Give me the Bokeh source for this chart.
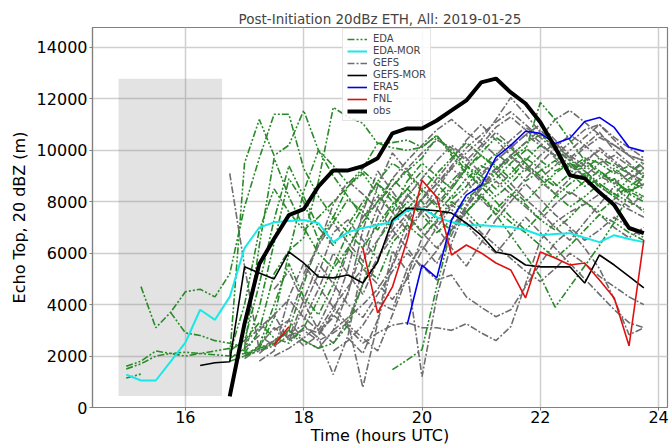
from bokeh.plotting import figure
from bokeh.models import FixedTicker, Legend, LegendItem, Range1d
from bokeh.embed import file_html
from bokeh.resources import INLINE

TITLE = "Post-Initiation 20dBz ETH, All: 2019-01-25"
STEP = 0.25  # hours between successive values of every series
END_HOUR = 23.75

X_TICKS = [16, 18, 20, 22, 24]
Y_TICKS = [0, 2000, 4000, 6000, 8000, 10000, 12000, 14000]

# initiation window (grey box)
INIT_WINDOW_HOURS = [14.87, 16.62]
INIT_WINDOW_ETH = [450, 12780]

# observations
obs_start = 16.75
obs = [430, 3260, 5580, 6560, 7480, 7710, 8600, 9220, 9220, 9380, 9690, 10660,
       10850, 10850, 11160, 11550, 11940, 12640, 12790, 12250, 11820, 11090,
       10120, 9030, 8910, 8370, 7870, 6980, 6780]

# ensemble means / reanalyses
eda_mor_start = 15.0
eda_mor = [1280, 1050, 1050, 1780, 2520, 3800, 3410, 4300, 6200, 7000, 7200,
           7250, 7290, 7170, 6430, 6820, 6980, 7100, 7210, 7670, 7750, 7400,
           7210, 7090, 7090, 7050, 7020, 6900, 6700, 6750, 6780, 6600, 6430,
           6700, 6550, 6430]

gefs_mor_start = 16.25
gefs_mor = [1630, 1740, 1780, 5470, 5230, 5000, 6050, 5620, 5080, 5040, 5150,
            4840, 5660, 7290, 7750, 7700, 7650, 7560, 7170, 6700, 6050, 5930,
            5540, 5470, 5470, 5470, 4840, 5930, 5540, 5100, 4650]

era5_start = 19.75
era5 = [3220, 5540, 5040, 7290, 8260, 8640, 9730, 10190, 10740, 10660, 10270,
        10470, 11120, 11280, 10890, 10120, 9960]

fnl_start = 17.5
fnl = [2440, 3140, None, None, None, None, 6200, 3680, 4690, 6510, 8840, 8180,
       5930, 6320, 6010, 5620, 5350, 4260, 6050, 5810, 5540, 5620, 4960, 4260,
       2400, 6510]

# EDA members: start hour and values
eda_starts = [15.25, 15.75, 15.0, 15.0, 15.0, 16.75, 17.0, 17.0, 19.5, 16.75,
              16.75, 16.75, 16.75, 17.0]
eda_members = [
    [4700, 3100, 3700, 4500, 4600, 4300, 5200, 7800, 9700, 11400, 11400, 9300,
     8200, 7400, 8600, 9100, 8300, 7600, 8800, 9500, 9000, 8500, 9300, 9800,
     9400, 8900, 9600, 10200, 9800, 9300, 9700, 9500, 9100, 9400, 9000],
    [3700, 2900, 2800, 2600, 2500, 2200, 3900, 6400, 8900, 8000, 6500, 7200,
     8100, 7600, 6900, 7800, 8500, 9200, 8700, 8100, 8600, 9300, 9900, 9400,
     8800, 9200, 9600, 9100, 8600, 8900, 9300, 8800, 8500],
    [1600, 1800, 2200, 2100, 2000, 2100, 2200, 2300, 2600, 4800, 7300, 9400,
     8200, 7000, 6300, 7100, 8000, 8700, 8200, 7700, 8400, 9100, 9700, 10300,
     9800, 9300, 9700, 10100, 9600, 9200, 9500, 9000, 8600, 8900, 8300, 8000],
    [1500, 1700, 2000, 2100, 2150, 2100, 2050, 2000, 2100, 2300, 3500, 6000,
     8400, 10000, 9400, 8700, 9300, 10270, 10100, 10000, 10120, 10580, 9800,
     9100, 8600, 9200, 9800, 10300, 10600, 10100, 9600, 9300, 9700, 9400,
     9100, 9600],
    [1150, 1300],
    [2000, 9500, 11200, 9800, 10200, 11550, 10000, 9000, 8200, 7400, 8000, 8900,
     8300, 7600, 8200, 8800, 9400, 9000, 8500, 9100, 9700, 9300, 8700, 8300,
     8800, 9200, 8700, 8400, 8700],
    [2100, 3000, 5200, 6100, 6600, 8800, 11670, 11300, 11050, 10270, 10300,
     10400, 10120, 10580, 9900, 9200, 8600, 8900, 9500, 10000, 11860, 11200,
     10400, 9600, 9100, 8800, 8400, 8100],
    [2000, 2400, 4000, 5600, 4300, 3600, 4800, 6200, 5500, 5000, 6400, 7100,
     6600, 7300, 8000, 7600, 7000, 7700, 8300, 7900, 7300, 6900, 7400, 8000,
     7600, 8100, 8500, 8200],
    [1470, 1850, 2250, 4700, 7000, 7600, 8200, 7700, 7200, 6800, 6300, 5800,
     6300, 6900, 7500, 7200, 6800, 6500],
    [1800, 2000, 2300, 2500, 3000, 4800, 6500, 7400, 6800, 6200, 7100, 7900,
     8500, 8000, 7300, 6900, 7600, 8300, 7500, 6700, 5900, 5100, 3900, 4700,
     5500, 6300, 7200, 8300, 9000],
    [2200, 2600, 3300, 2700, 2500, 3100, 4200, 5500, 6800, 7800, 8800, 9500,
     9100, 8400, 7800, 8500, 9300, 9900, 10500, 10100, 9500, 9000, 8600, 9100,
     9600, 9200, 8800, 8400, 8700],
    [2100, 4000, 6900, 8500, 7600, 6900, 7400, 8000, 8600, 9200, 8700, 8000,
     7400, 6900, 7600, 8200, 8900, 9400, 9100, 8500, 8000, 8600, 9100, 9500,
     9200, 8700, 8300, 8000, 7700],
    [1900, 2300, 6300, 9700, 8200, 7000, 6000, 5400, 6200, 7200, 8000, 8600,
     9200, 9700, 10500, 10000, 9400, 8800, 8200, 8700, 9300, 8900, 8300, 7800,
     8200, 8700, 8300, 8900, 9300],
    [2000, 2200, 2500, 3000, 2600, 2300, 2500, 3200, 4800, 6500, 7300, 8000,
     7500, 6800, 7300, 8100, 8600, 8000, 7400, 6900, 7500, 8200, 8700, 9100,
     8600, 8200, 8600, 9000],
]

# GEFS members: start hour and values
gefs_starts = [16.75, 17.0, 17.0, 17.25, 17.0, 17.25, 17.5, 17.5, 17.75, 18.0,
               18.25, 18.5, 18.75, 18.0, 17.25, 18.5, 17.0, 17.5]
gefs_members = [
    [9100, 5500, 2200, 2400, 3400, 2600, 2300, 3000, 4500, 6200, 7800, 8900,
     9600, 10200, 10800, 11200, 10700, 10300, 9800, 10400, 10900, 10500, 10000,
     9600, 10100, 10500, 10200, 9800, 9600],
    [1900, 2300, 2600, 2900, 3200, 2700, 1280, 2800, 5600, 7400, 8600, 9300,
     9900, 10400, 10100, 9600, 10200, 10900, 11300, 10800, 10300, 9700, 9200,
     9600, 10000, 9500, 9100, 8800],
    [2300, 2800, 2400, 2800, 3000, 2600, 2900, 3300, 780, 3300, 5600, 7200,
     8100, 8700, 9300, 9900, 10400, 11200, 12050, 11400, 10700, 10000, 9400,
     9000, 9500, 9800, 9400, 9100],
    [2100, 2600, 3000, 2400, 2800, 3600, 3100, 2500, 2900, 3200, 3300, 3100,
     3100, 3000, 3260, 2900, 2600, 3140, 4800, 6500, 7200, 7600, 7900, 8300,
     8000, 7700, 7400],
    [2000, 2400, 3100, 2700, 4200, 5600, 4800, 4000, 3500, 4400, 5300, 6000,
     5500, 4960, 5150, 4300, 3900, 3530, 3800, 4700, 5600, 6400, 6900, 6200,
     5400, 4200, 2830, 3100],
    [3000, 3600, 2600, 3900, 5200, 6800, 7300, 6500, 5800, 6600, 7400, 8100,
     8700, 9400, 10100, 10600, 11100, 11500, 11000, 10500, 11200, 11550, 11100,
     10600, 10200, 9800, 9600],
    [2000, 2300, 2700, 3200, 4400, 6100, 7400, 8200, 7600, 6900, 7700, 8500,
     9300, 8800, 8100, 7500, 8200, 8900, 9500, 10100, 10600, 10200, 9700, 9200,
     8800, 9300],
    [4600, 5300, 4100, 3000, 2500, 3400, 4800, 5800, 6900, 7500, 6800, 6200,
     6900, 7600, 8200, 8800, 8300, 7800, 7300, 7900, 8400, 8000, 7500, 7000,
     6600, 7000],
    [2600, 3100, 2900, 3700, 5400, 7600, 9200, 8400, 7600, 8100, 8900, 9600,
     10400, 11000, 10400, 9800, 9200, 9800, 10300, 9700, 9200, 8600, 8200,
     7800, 8300],
    [3400, 4600, 6000, 5200, 4400, 5700, 7100, 8300, 7700, 7000, 6200, 5500,
     6400, 7300, 8000, 8700, 8100, 7500, 7000, 6500, 6900, 7400, 7000, 6600],
    [2900, 3500, 4400, 6900, 8600, 9900, 9200, 8500, 7900, 8600, 9400, 10100,
     10700, 10200, 9500, 8900, 9400, 10000, 10500, 11000, 10400, 9800, 9300,
     9700],
    [2200, 2600, 3200, 4100, 3800, 5400, 6300, 5600, 6700, 7900, 8800, 9300,
     8700, 8100, 7600, 7000, 6500, 7200, 7900, 8600, 8100, 7600, 7100, 6800],
    [2700, 2100, 3400, 6100, 5300, 1200, 4300, 6400, 7800, 8600, 9300, 9800,
     10300, 10800, 10200, 9700, 10200, 10700, 10000, 9500, 9000, 8700],
    [5200, 6300, 7900, 8800, 8300, 7700, 6900, 6200, 5400, 6100, 7000, 7800,
     8500, 9100, 9700, 9400, 8800, 8300, 8900, 9500, 10100, 9600, 9100, 8600],
    [1800, 2200, 4300, 5600, 4700, 3900, 3200, 2700, 2200, 3600, 5100, 6600,
     7200, 7900, 7400, 6800, 6300, 5800, 5300, 4900, 5400, 6000, 5600, 5100,
     4700, 4300, 4000],
    [3000, 3500, 4000, 4600, 5500, 6800, 7600, 8200, 7700, 7100, 6500, 6000,
     6700, 7400, 6800, 6200, 5600, 5000, 4400, 3800, 3300, 3100],
    [2500, 3100, 3600, 4200, 3500, 3000, 3900, 4700, 5400, 4800, 4200, 5000,
     6100, 7000, 7800, 8400, 9000, 9600, 10100, 10600, 10200, 9800, 10300,
     10800, 11000, 10500, 10100, 9700],
    [3000, 3400, 5000, 6300, 7200, 6400, 5700, 6500, 7500, 8200, 8900, 9600,
     10200, 9700, 9100, 9600, 10100, 10600, 11000, 10400, 9800, 9400, 9000,
     8700, 9100, 9500],
]


def series(start, values):
    """Hours and heights of a series, kept within the forecast window."""
    xs, ys = [], []
    for k, v in enumerate(values):
        t = start + STEP * k
        if t > END_HOUR + 1e-9:
            break
        xs.append(t)
        ys.append(float("nan") if v is None else v)
    return xs, ys


FONT = "DejaVu Sans"

p = figure(width=669, height=447, output_backend="svg", toolbar_location=None,
           x_range=Range1d(14.43, 24.15), y_range=Range1d(0, 14776),
           min_border_left=92, min_border_right=2, min_border_top=27,
           min_border_bottom=0)

p.title.text = TITLE
p.title.align = "center"
p.title.text_font = FONT
p.title.text_font_size = "13.5px"
p.title.text_font_style = "normal"
p.title.offset = 0
p.title.standoff = 2

p.outline_line_color = "#808080"
p.outline_line_width = 1.2

for ax in (p.xaxis[0], p.yaxis[0]):
    ax.axis_line_color = "#808080"
    ax.axis_line_width = 1.2
    ax.major_tick_line_color = "#808080"
    ax.major_tick_out = 3
    ax.major_tick_in = 0
    ax.minor_tick_line_color = None
    ax.major_label_text_font = FONT
    ax.major_label_text_font_size = "16px"
    ax.major_label_text_color = "black"
    ax.axis_label_text_font = FONT
    ax.axis_label_text_font_size = "16px"
    ax.axis_label_text_font_style = "normal"
    ax.axis_label_text_color = "black"
    ax.major_label_standoff = 0
    ax.axis_label_standoff = 0

p.xaxis.ticker = FixedTicker(ticks=X_TICKS)
p.yaxis.ticker = FixedTicker(ticks=Y_TICKS)
p.xaxis.axis_label = "Time (hours UTC)"
p.yaxis.axis_label = "Echo Top, 20 dBZ (m)"
p.yaxis.major_label_standoff = 2
p.yaxis.axis_label_standoff = 5

p.grid.grid_line_color = "#cfcfcf"
p.grid.grid_line_width = 1.5

p.quad(left=INIT_WINDOW_HOURS[0], right=INIT_WINDOW_HOURS[1],
       bottom=INIT_WINDOW_ETH[0], top=INIT_WINDOW_ETH[1],
       fill_color="#808080", fill_alpha=0.22, line_color=None)

EDA_COLOR = "#2a8a2a"
GEFS_COLOR = "#6e6e6e"
EDA_DASH = "7 2 2 2 2 2"
GEFS_DASH = "7 2 2 2"

eda_r = []
gefs_r = []
n = max(len(eda_members), len(gefs_members))
for i in range(n):
    if i < len(gefs_members):
        xs, ys = series(gefs_starts[i], gefs_members[i])
        gefs_r.append(p.line(xs, ys, line_color=GEFS_COLOR, line_width=1.6,
                             line_dash=GEFS_DASH))
    if i < len(eda_members):
        xs, ys = series(eda_starts[i], eda_members[i])
        eda_r.append(p.line(xs, ys, line_color=EDA_COLOR, line_width=1.6,
                            line_dash=EDA_DASH))

xs, ys = series(eda_mor_start, eda_mor)
r_edamor = p.line(xs, ys, line_color="#18e8e8", line_width=2)
xs, ys = series(gefs_mor_start, gefs_mor)
r_gefsmor = p.line(xs, ys, line_color="black", line_width=1.6)
xs, ys = series(era5_start, era5)
r_era5 = p.line(xs, ys, line_color="#0000ee", line_width=1.6)
xs, ys = series(fnl_start, fnl)
r_fnl = p.line(xs, ys, line_color="#e01010", line_width=1.6)
xs, ys = series(obs_start, obs)
r_obs = p.line(xs, ys, line_color="black", line_width=4)

legend = Legend(items=[
    LegendItem(label="EDA", renderers=[eda_r[0]]),
    LegendItem(label="EDA-MOR", renderers=[r_edamor]),
    LegendItem(label="GEFS", renderers=[gefs_r[0]]),
    LegendItem(label="GEFS-MOR", renderers=[r_gefsmor]),
    LegendItem(label="ERA5", renderers=[r_era5]),
    LegendItem(label="FNL", renderers=[r_fnl]),
    LegendItem(label="obs", renderers=[r_obs]),
], location=(250, 286))
legend.label_text_font = FONT
legend.label_text_font_size = "10px"
legend.label_height = 10
legend.glyph_height = 10
legend.glyph_width = 20
legend.spacing = 1
legend.padding = 4
legend.margin = 0
legend.label_standoff = 6
legend.border_line_color = "#cccccc"
legend.border_line_width = 1
legend.background_fill_alpha = 0.85
p.add_layout(legend)

open("out.html", "w").write(file_html(p, INLINE))
